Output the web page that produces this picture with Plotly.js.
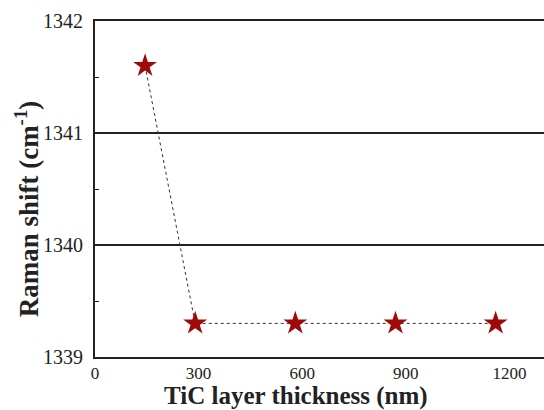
<!DOCTYPE html>
<html><head><meta charset="utf-8">
<script src="https://cdn.plot.ly/plotly-3.0.1.min.js"></script>
<style>html,body{margin:0;padding:0;background:#fff}#chart{width:544px;height:410px}</style>
</head><body><div id="chart"></div>
<script>
const thickness = [145, 290, 580, 870, 1160];
const ramanShift = [1341.6, 1339.3, 1339.3, 1339.3, 1339.3];
const xTicks = [0, 300, 600, 900, 1200];
const yTicks = [1339, 1340, 1341, 1342];
const xTitle = '<b>TiC layer thickness (nm)</b>';
const yTitle = '<b>Raman shift (cm<sup>-1</sup>)</b>';

const FONT = "'Liberation Serif', 'Times New Roman', serif";
const trace = {
  x: thickness, y: ramanShift, type: 'scatter', mode: 'lines+markers',
  line: {color: '#333', width: 1, dash: 'dot'},
  marker: {symbol: 'star', size: 18, color: '#9e0a0a', line: {width: 0}}
};
const layout = {
  width: 544, height: 410,
  margin: {l: 95, r: 0, t: 21, b: 53},
  paper_bgcolor: '#fff', plot_bgcolor: '#fff',
  showlegend: false,
  font: {family: FONT, color: '#222'},
  xaxis: {
    range: [0, 1300], tickvals: xTicks, ticktext: xTicks.map(String),
    showgrid: false, zeroline: false, showline: true, mirror: true, linecolor: '#222', linewidth: 2,
    ticks: '', tickfont: {family: FONT, size: 17, color: '#222'}, ticklabelstandoff: 0
  },
  yaxis: {
    range: [1339, 1342], tickvals: yTicks, ticktext: yTicks.map(String),
    showgrid: true, gridcolor: '#222', gridwidth: 2, zeroline: false,
    showline: true, linecolor: '#222', linewidth: 2,
    ticks: 'inside', ticklen: 5, tickcolor: '#222',
    minor: {dtick: 0.5, tick0: 1339, ticks: 'inside', ticklen: 4, tickcolor: '#222', showgrid: false},
    tickfont: {family: FONT, size: 20, color: '#222'}, ticklabelstandoff: 6
  },
  annotations: [
    {text: xTitle, xref: 'paper', yref: 'paper', x: 0.448, y: -0.16, xanchor: 'center', yanchor: 'bottom',
     showarrow: false, borderpad: 0, font: {family: FONT, size: 25, color: '#222'}},
    {text: yTitle, xref: 'paper', yref: 'paper', x: -0.151, y: 0.44, xanchor: 'center', yanchor: 'middle',
     textangle: -90, showarrow: false, font: {family: FONT, size: 27, color: '#222'}}
  ]
};
Plotly.newPlot('chart', [trace], layout, {staticPlot: true, displayModeBar: false});
</script></body></html>
